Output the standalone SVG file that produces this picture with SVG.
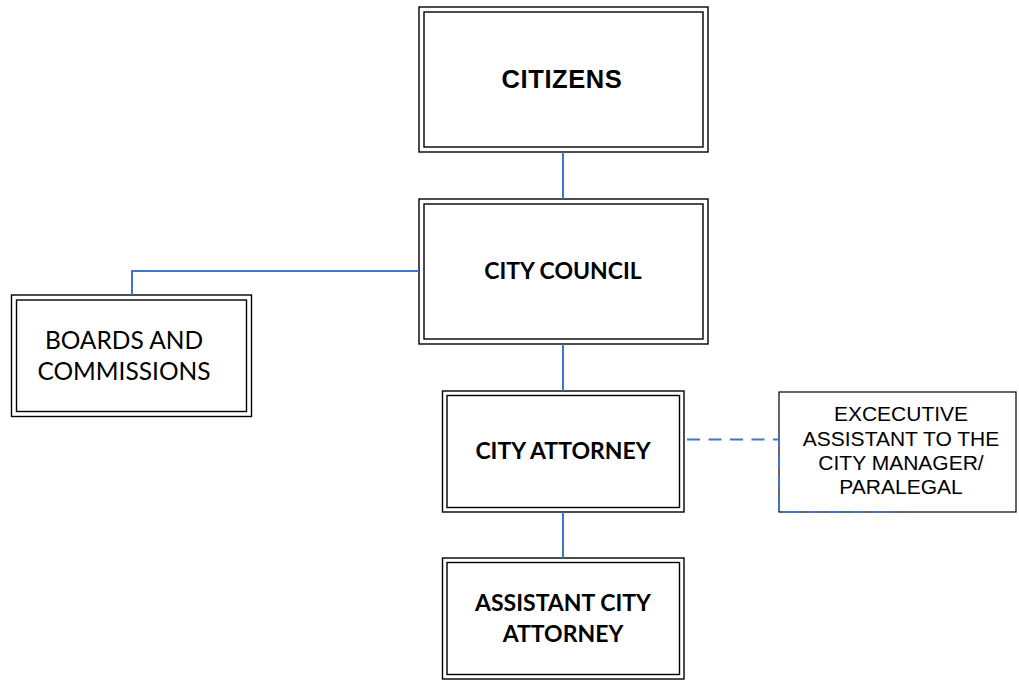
<svg xmlns="http://www.w3.org/2000/svg" width="1019" height="684" viewBox="0 0 1019 684">
  <style>
    .frame { fill: none; stroke: #000; stroke-width: 1.4; }
    .bg { fill: #fff; }
    .single { fill: #fff; stroke: #000; stroke-width: 1.2; }
    .link { fill: none; stroke: #4472C4; stroke-width: 2; }
    .dash { fill: none; stroke: #4472C4; stroke-width: 2; stroke-dasharray: 13 8.5; }
    .arial-b { font-family: "Liberation Sans", Arial, sans-serif; font-weight: bold; fill: #000; text-anchor: middle; }
    .arial { font-family: "Liberation Sans", Arial, sans-serif; fill: #000; text-anchor: middle; }
    .cal-b { font-family: Lato, "Open Sans", sans-serif; font-weight: bold; fill: #000; text-anchor: middle; }
    .cal { font-family: Lato, "Open Sans", sans-serif; fill: #000; text-anchor: middle; }
  </style>
  <rect x="0" y="0" width="1019" height="684" fill="#fff"/>

  <g id="citizens">
    <rect class="bg" x="419" y="7" width="289" height="145"/>
    <rect class="frame" x="419" y="7" width="289" height="145"/>
    <rect class="frame" x="424" y="12" width="279" height="135"/>
    <text class="arial-b" x="562" y="88" font-size="25.5" letter-spacing="0.6">CITIZENS</text>
  </g>

  <g id="city-council">
    <rect class="bg" x="419" y="199" width="289" height="145"/>
    <rect class="frame" x="419" y="199" width="289" height="145"/>
    <rect class="frame" x="424" y="204" width="279" height="135"/>
    <text class="cal-b" x="563" y="279" font-size="23">CITY COUNCIL</text>
  </g>

  <g id="boards-and-commissions">
    <rect class="bg" x="11.5" y="295" width="240" height="121.5"/>
    <rect class="frame" x="11.5" y="295" width="240" height="121.5"/>
    <rect class="frame" x="16.5" y="300" width="230" height="111.5"/>
    <text class="cal" x="124" y="349" font-size="24.5">BOARDS AND</text>
    <text class="cal" x="124" y="380" font-size="24.5">COMMISSIONS</text>
  </g>

  <g id="city-attorney">
    <rect class="bg" x="442.5" y="391" width="241.5" height="121"/>
    <rect class="frame" x="442.5" y="391" width="241.5" height="121"/>
    <rect class="frame" x="447" y="395.5" width="232.5" height="112"/>
    <text class="cal-b" x="563" y="459" font-size="23">CITY ATTORNEY</text>
  </g>

  <g id="assistant-city-attorney">
    <rect class="bg" x="442.5" y="558" width="241.5" height="121"/>
    <rect class="frame" x="442.5" y="558" width="241.5" height="121"/>
    <rect class="frame" x="447" y="562.5" width="232.5" height="112"/>
    <text class="cal-b" x="563" y="610.5" font-size="23">ASSISTANT CITY</text>
    <text class="cal-b" x="563" y="642" font-size="23">ATTORNEY</text>
  </g>

  <g id="executive-assistant">
    <rect class="single" x="779" y="392" width="237" height="120"/>
    <text class="arial" x="901" y="420.5" font-size="21">EXCECUTIVE</text>
    <text class="arial" x="901" y="445.5" font-size="21">ASSISTANT TO THE</text>
    <text class="arial" x="901" y="470" font-size="21">CITY MANAGER/</text>
    <text class="arial" x="901" y="494" font-size="21">PARALEGAL</text>
  </g>

  <g id="connectors">
    <line class="link" x1="563" y1="152" x2="563" y2="199"/>
    <polyline class="link" points="419,271 132,271 132,295"/>
    <line class="link" x1="563" y1="344" x2="563" y2="391"/>
    <line class="link" x1="563" y1="512" x2="563" y2="558"/>
    <polyline class="dash" points="687,439.5 779,439.5 779,512 898,512"/>
  </g>
</svg>
